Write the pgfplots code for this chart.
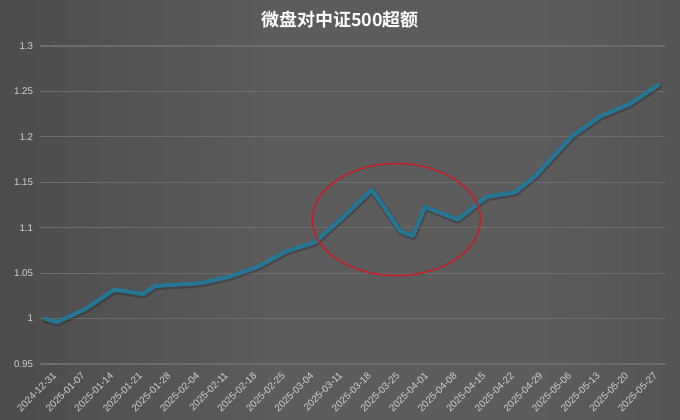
\documentclass[border=0pt]{standalone}
\usepackage{pgfplots}
\pgfplotsset{compat=1.18}
\usepackage{pgfplotstable}
\usepackage{fontspec}
\setmainfont{Liberation Sans}
\newfontfamily\cjk{Noto Sans CJK SC}[BoldFont={* Bold}]
\pgfdeclarehorizontalshading{bgshade}{100bp}{
  color(0bp)=(black!80); color(20bp)=(black!72); color(45bp)=(black!64);
  color(65bp)=(black!64); color(85bp)=(black!70); color(100bp)=(black!78)}
\definecolor{gridc}{HTML}{6C6C6C}
\definecolor{labelc}{HTML}{D4D4D4}
\definecolor{linec}{RGB}{38,118,148}
\definecolor{ellc}{RGB}{190,35,40}
\pgfplotstableread{
d v
0 1.000
3 0.996
10 1.011
17 1.032
24 1.027
27 1.036
38 1.039
45 1.046
52 1.057
59 1.074
66 1.084
73 1.112
80 1.142
87 1.096
90 1.091
93 1.123
101 1.109
108 1.134
115 1.139
120 1.157
129 1.201
136 1.223
143 1.236
150 1.257
}\excess
\begin{document}
\begin{tikzpicture}[x=1pt,y=1pt]
\shade[shading=bgshade] (-30,-41.25) rectangle (480,273);
\begin{axis}[
  at={(0,0)}, anchor=south west,
  scale only axis, width=468.75pt, height=238.5pt,
  xmin=-1.2, xmax=151.7, ymin=0.95, ymax=1.3,
  axis line style={draw=none}, tick style={draw=none},
  ymajorgrids, grid style={gridc, line width=0.8pt},
  ytick={0.95,1,1.05,1.1,1.15,1.2,1.25,1.3},
  yticklabels={0.95,1,1.05,1.1,1.15,1.2,1.25,1.3},
  xtick={0,7,...,147},
  xticklabels={2024-12-31,2025-01-07,2025-01-14,2025-01-21,2025-01-28,2025-02-04,2025-02-11,2025-02-18,2025-02-25,2025-03-04,2025-03-11,2025-03-18,2025-03-25,2025-04-01,2025-04-08,2025-04-15,2025-04-22,2025-04-29,2025-05-06,2025-05-13,2025-05-20,2025-05-27},
  yticklabel style={font=\fontsize{7.3}{8}\selectfont, text=labelc, inner sep=0pt, xshift=-5pt},
  xticklabel style={font=\fontsize{7.4}{8}\selectfont, text=labelc, rotate=45, anchor=north east, inner sep=0pt, yshift=-7.5pt, xshift=0pt},
  clip=false,
]
\addplot[black, opacity=0.22, line width=4.6pt, line join=round, line cap=round, shift={(0.4pt,-0.9pt)}] table[x=d,y=v] {\excess};
\addplot[linec, line width=3.1pt, line join=round, line cap=round] table[x=d,y=v] {\excess};
\draw[ellc, line width=1.2pt] (axis cs:86,1.109) ellipse [x radius=63pt, y radius=42pt];
\end{axis}
\node[text=white, font=\cjk\bfseries\fontsize{13.5}{15}\selectfont] at (225,258) {微盘对中证500超额};
\pgfresetboundingbox
\path[use as bounding box] (-30,-41.25) rectangle (480,273);
\end{tikzpicture}
\end{document}
